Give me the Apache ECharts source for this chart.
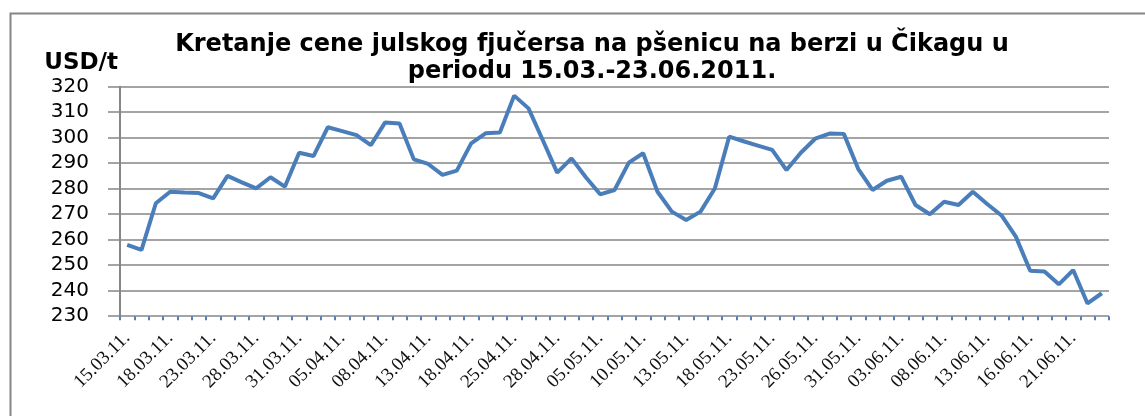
<!DOCTYPE html>
<html>
<head>
<meta charset="utf-8">
<script src="https://cdn.jsdelivr.net/npm/echarts@6/dist/echarts.min.js"></script>
<style>
html,body{margin:0;padding:0;background:#fff;}
#chart{width:1145px;height:416px;}
</style>
</head>
<body>
<div id="chart"></div>
<script>
const titleText = 'Kretanje cene julskog fjučersa na pšenicu na berzi u Čikagu u\nperiodu 15.03.-23.06.2011.';
const yUnit = 'USD/t';
const dates = [
 '15.03.11.','16.03.11.','17.03.11.','18.03.11.','21.03.11.','22.03.11.','23.03.11.','24.03.11.','25.03.11.','28.03.11.','29.03.11.','30.03.11.','31.03.11.',
 '01.04.11.','04.04.11.','05.04.11.','06.04.11.','07.04.11.','08.04.11.','11.04.11.','12.04.11.','13.04.11.','14.04.11.','15.04.11.','18.04.11.','19.04.11.','20.04.11.','25.04.11.','26.04.11.','27.04.11.','28.04.11.','29.04.11.',
 '04.05.11.','05.05.11.','06.05.11.','09.05.11.','10.05.11.','11.05.11.','12.05.11.','13.05.11.','16.05.11.','17.05.11.','18.05.11.','19.05.11.','20.05.11.','23.05.11.','24.05.11.','25.05.11.','26.05.11.','27.05.11.','30.05.11.','31.05.11.',
 '01.06.11.','02.06.11.','03.06.11.','06.06.11.','07.06.11.','08.06.11.','09.06.11.','10.06.11.','13.06.11.','14.06.11.','15.06.11.','16.06.11.','17.06.11.','20.06.11.','21.06.11.','22.06.11.','23.06.11.'
];
const prices = [
 258, 256, 274.3, 278.8, 278.5, 278.3, 276.2, 285, 282.5, 280.1, 284.5, 280.8, 294.1,
 292.8, 304.1, 302.6, 301, 297.1, 306, 305.6, 291.5, 289.7, 285.4, 287.1, 297.8, 301.7, 302, 316.5, 311.5, 299, 286.3, 291.9,
 284.5, 277.8, 279.5, 290.2, 293.9, 278.8, 271, 267.7, 271, 280.1, 300.4, 298.6, 296.9, 295.2, 287.3, 294.1, 299.6, 301.6, 301.5, 287.8,
 279.5, 283.1, 284.7, 273.6, 270, 274.9, 273.6, 278.8, 274, 269.5, 261.2, 247.8, 247.5, 242.5, 248.1, 235, 239
];
const yMin = 230, yMax = 320, yStep = 10;

const chart = echarts.init(document.getElementById('chart'));
chart.setOption({
  backgroundColor: '#fff',
  animation: false,
  graphic: [{
    type: 'rect', left: 8, top: 11, z: -1,
    shape: {width: 1200, height: 430},
    style: {fill: 'none', stroke: '#868686', lineWidth: 2}
  }],
  title: {
    text: titleText,
    left: 587, top: 26, textAlign: 'center',
    textStyle: {fontFamily: 'DejaVu Sans', fontWeight: 'bold', fontSize: 24, lineHeight: 27, color: '#000'}
  },
  grid: {left: 120, right: 36, top: 86.7, bottom: 99.8, containLabel: false},
  xAxis: {
    type: 'category', data: dates, boundaryGap: true,
    axisLine: {show: false},
    axisTick: {show: true, interval: 0, length: 4, lineStyle: {color: '#4f81bd', width: 2}},
    axisLabel: {interval: 2, rotate: 45, margin: 19, fontFamily: 'Liberation Serif', fontSize: 19, color: '#111'},
    splitLine: {show: false}
  },
  yAxis: {
    type: 'value', min: yMin, max: yMax, interval: yStep,
    name: yUnit, nameLocation: 'end', nameGap: 24,
    nameTextStyle: {fontFamily: 'DejaVu Sans', fontWeight: 'bold', fontSize: 23, color: '#000', align: 'right', verticalAlign: 'middle', padding: [0, 2, 0, 0]},
    axisLine: {show: true, lineStyle: {color: '#868686', width: 2}},
    axisTick: {show: true, length: 12, lineStyle: {color: '#868686', width: 1.5}},
    axisLabel: {margin: 31, fontFamily: 'DejaVu Sans', fontSize: 20, color: '#000'},
    splitLine: {show: true, lineStyle: {color: '#868686', width: 1.5}}
  },
  series: [{
    type: 'line', data: prices, symbol: 'none', smooth: false,
    lineStyle: {color: '#4a7ebb', width: 4},
    z: 3
  }]
});
</script>
</body>
</html>
